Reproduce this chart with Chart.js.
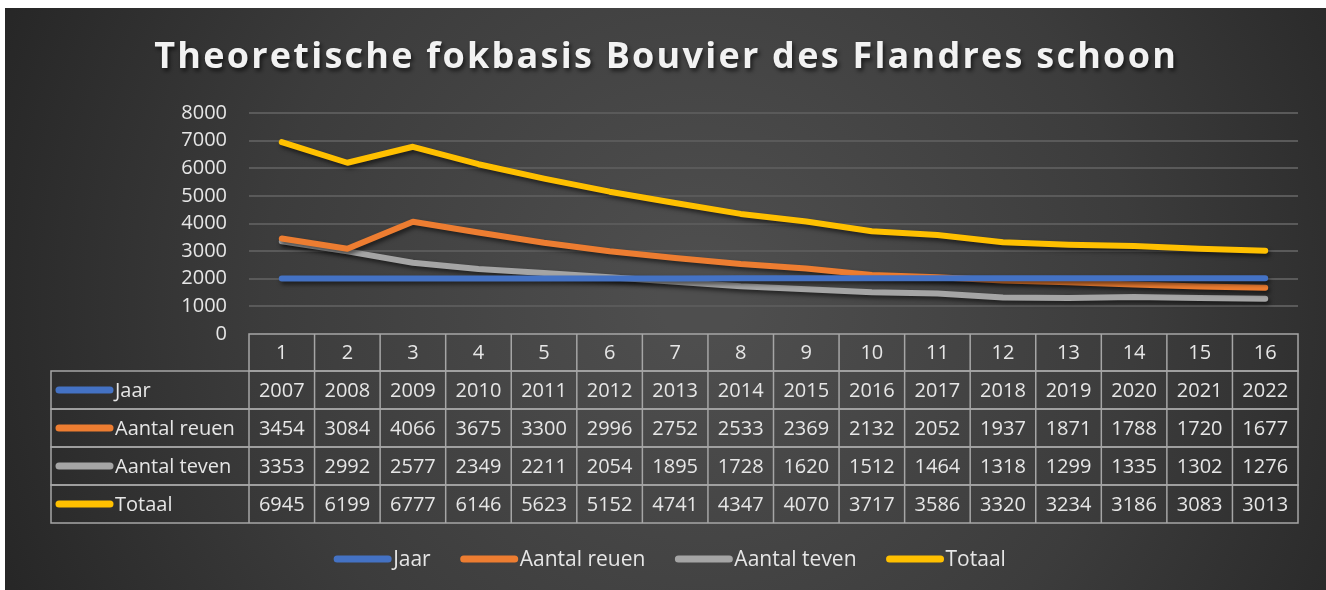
<!DOCTYPE html>
<html>
<head>
<meta charset="utf-8">
<title>Theoretische fokbasis Bouvier des Flandres schoon</title>
<script src="https://cdn.jsdelivr.net/npm/chart.js@4/dist/chart.umd.min.js"></script>
<style>
  html, body { margin: 0; padding: 0; background: #fff; }
  #wrap { width: 1326px; height: 590px; }
</style>
</head>
<body>
<div id="wrap"><canvas id="fokChart" width="1326" height="590"></canvas></div>
<script>
// data
const categories = ['1', '2', '3', '4', '5', '6', '7', '8', '9', '10', '11', '12', '13', '14', '15', '16'];
const jaar = [2007, 2008, 2009, 2010, 2011, 2012, 2013, 2014, 2015, 2016, 2017, 2018, 2019, 2020, 2021, 2022];
const reuen = [3454, 3084, 4066, 3675, 3300, 2996, 2752, 2533, 2369, 2132, 2052, 1937, 1871, 1788, 1720, 1677];
const teven = [3353, 2992, 2577, 2349, 2211, 2054, 1895, 1728, 1620, 1512, 1464, 1318, 1299, 1335, 1302, 1276];
const totaal = [6945, 6199, 6777, 6146, 5623, 5152, 4741, 4347, 4070, 3717, 3586, 3320, 3234, 3186, 3083, 3013];
const yTicks = [0, 1000, 2000, 3000, 4000, 5000, 6000, 7000, 8000];
const titleText = 'Theoretische fokbasis Bouvier des Flandres schoon';

const FONT = '"Open Sans", Lato, sans-serif';
const TEXT = '#e6e6e6';

// background + title
const backdrop = {
    id: 'backdrop',
    beforeDraw(chart) {
        const c = chart.ctx;
        c.save();
        const g = c.createRadialGradient(700, 300, 40, 700, 300, 760);
        g.addColorStop(0, '#4e4e4e');
        g.addColorStop(0.55, '#3c3c3c');
        g.addColorStop(1, '#262626');
        c.fillStyle = g;
        c.fillRect(5, 8, 1321, 582);

        c.font = 'bold 36px ' + FONT;
        // stretch the letters so the title spans roughly 153..1177
        const raw = c.measureText(titleText).width;
        const sp = Math.max(0, (1024 - raw) / titleText.length);
        c.letterSpacing = sp.toFixed(2) + 'px';
        c.textAlign = 'center';
        c.textBaseline = 'middle';
        c.shadowColor = 'rgba(0,0,0,0.6)';
        c.shadowOffsetX = 2;
        c.shadowOffsetY = 3;
        c.shadowBlur = 4;
        c.fillStyle = '#f2f2f2';
        c.fillText(titleText, 665 + sp / 2, 58);
        c.restore();
    },
    beforeDatasetsDraw(chart) {
        const c = chart.ctx;
        c.save();
        c.shadowColor = 'rgba(0,0,0,0.55)';
        c.shadowOffsetX = 2;
        c.shadowOffsetY = 3;
        c.shadowBlur = 4;
    },
    afterDatasetsDraw(chart) {
        chart.ctx.restore();
    }
};

// data table under the plot + legend
const dataTable = {
    id: 'dataTable',
    afterDraw(chart) {
        const c = chart.ctx;
        const x = chart.scales.x;
        const area = chart.chartArea;
        const n = categories.length;
        const colW = (area.right - area.left) / n;
        const top = area.bottom;
        const rowH = [37, 38, 38, 38, 38];
        const labelLeft = 51;

        c.save();
        c.strokeStyle = '#a6a6a6';
        c.lineWidth = 1.5;
        c.font = '20px ' + FONT;
        c.textBaseline = 'middle';
        c.fillStyle = TEXT;

        // header row with category numbers
        let y = top;
        c.strokeRect(area.left, y, area.right - area.left, rowH[0]);
        for (let i = 0; i < n; i++) {
            const cx = x.getPixelForValue(i);
            c.textAlign = 'center';
            c.fillText(categories[i], cx, y + rowH[0] / 2 + 1);
            if (i > 0) {
                c.beginPath();
                c.moveTo(area.left + i * colW, y);
                c.lineTo(area.left + i * colW, y + rowH[0]);
                c.stroke();
            }
        }
        y += rowH[0];

        chart.data.datasets.forEach((ds, r) => {
            const h = rowH[r + 1];
            c.strokeRect(labelLeft, y, area.right - labelLeft, h);
            c.beginPath();
            c.moveTo(area.left, y);
            c.lineTo(area.left, y + h);
            c.stroke();
            for (let i = 1; i < n; i++) {
                c.beginPath();
                c.moveTo(area.left + i * colW, y);
                c.lineTo(area.left + i * colW, y + h);
                c.stroke();
            }
            const my = y + h / 2;
            // legend key
            c.save();
            c.strokeStyle = ds.borderColor;
            c.lineWidth = 7;
            c.lineCap = 'round';
            c.beginPath();
            c.moveTo(59, my);
            c.lineTo(110, my);
            c.stroke();
            c.restore();
            c.textAlign = 'left';
            c.fillText(ds.label, 115, my + 1);
            c.textAlign = 'center';
            ds.data.forEach((v, i) => {
                c.fillText(String(v), x.getPixelForValue(i), my + 1);
            });
            y += h;
        });

        // legend at the bottom
        c.font = '21px ' + FONT;
        const keyW = 57, gapKey = 2, gapItem = 30;
        const items = chart.data.datasets.map(ds => ({
            ds, w: keyW + gapKey + c.measureText(ds.label).width
        }));
        const total = items.reduce((s, it) => s + it.w, 0) + gapItem * (items.length - 1);
        let lx = 670 - total / 2;
        const ly = 559;
        items.forEach(it => {
            c.save();
            c.strokeStyle = it.ds.borderColor;
            c.lineWidth = 7;
            c.lineCap = 'round';
            c.beginPath();
            c.moveTo(lx + 3, ly);
            c.lineTo(lx + keyW - 3, ly);
            c.stroke();
            c.restore();
            c.textAlign = 'left';
            c.fillText(it.ds.label, lx + keyW + gapKey, ly + 1);
            lx += it.w + gapItem;
        });
        c.restore();
    }
};

const lineStyle = color => ({
    borderColor: color,
    backgroundColor: color,
    borderWidth: 6,
    borderCapStyle: 'round',
    borderJoinStyle: 'round',
    pointRadius: 0,
    pointHoverRadius: 0,
    tension: 0,
    fill: false
});

const ctx = document.getElementById('fokChart').getContext('2d');
new Chart(ctx, {
    type: 'line',
    data: {
        labels: categories,
        datasets: [
            { label: 'Jaar', data: jaar, ...lineStyle('#4472c4') },
            { label: 'Aantal reuen', data: reuen, ...lineStyle('#ed7d31') },
            { label: 'Aantal teven', data: teven, ...lineStyle('#a5a5a5') },
            { label: 'Totaal', data: totaal, ...lineStyle('#ffc000') }
        ]
    },
    options: {
        responsive: false,
        animation: false,
        layout: { padding: { left: 0, right: 28, top: 113, bottom: 256 } },
        plugins: {
            legend: { display: false },
            title: { display: false },
            tooltip: { enabled: false }
        },
        scales: {
            x: {
                display: false,
                offset: true
            },
            y: {
                min: 0,
                max: 8000,
                afterFit: scale => { scale.width = 249; },
                afterBuildTicks: scale => { scale.ticks = yTicks.map(v => ({ value: v })); },
                ticks: {
                    color: TEXT,
                    font: { family: FONT, size: 20 },
                    padding: 22,
                    callback: v => String(v)
                },
                border: { display: false },
                grid: {
                    color: ctx => ctx.tick && ctx.tick.value === 0 ? 'rgba(0,0,0,0)' : '#5a5a5a',
                    lineWidth: 2,
                    drawTicks: false
                }
            }
        }
    },
    plugins: [backdrop, dataTable]
});
</script>
</body>
</html>
